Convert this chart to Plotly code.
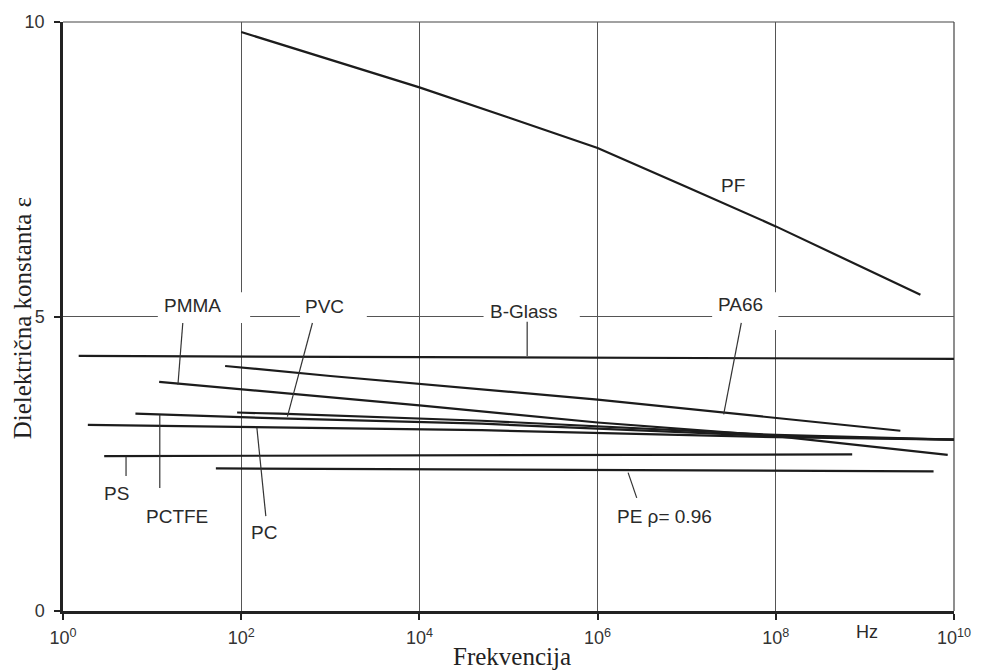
import plotly.graph_objects as go

# ---- data (frequency in Hz, dielectric constant) ----
pf_f = [1e2, 1e3, 1e4, 1e5, 1e6, 1e7, 1e8, 4.2e9]
pf_eps = [9.83, 9.36, 8.89, 8.38, 7.86, 7.20, 6.53, 5.37]

bglass_f = [1.5, 1e10]
bglass_eps = [4.33, 4.28]

pa66_f = [66, 1e3, 1e6, 2.5e9]
pa66_eps = [4.16, 3.99, 3.59, 3.06]

pmma_f = [12, 1e4, 1e6, 1e8, 8.5e9]
pmma_eps = [3.89, 3.49, 3.20, 2.97, 2.65]

pvc_f = [90, 270, 5e4, 1e8, 1e10]
pvc_eps = [3.37, 3.35, 3.23, 2.99, 2.91]

pctfe_f = [6.5, 270, 5e4, 1e8, 1e10]
pctfe_eps = [3.35, 3.27, 3.18, 2.97, 2.91]

pc_f = [1.9, 270, 5e4, 1e8, 1e10]
pc_eps = [3.16, 3.12, 3.07, 2.95, 2.91]

ps_f = [2.9, 7.2e8]
ps_eps = [2.63, 2.66]

pe_f = [52, 5.9e9]
pe_eps = [2.42, 2.37]

x_tickvals = [1, 1e2, 1e4, 1e6, 1e8, 1e10]
x_ticktext = ["10<sup>0</sup>", "10<sup>2</sup>", "10<sup>4</sup>",
              "10<sup>6</sup>", "10<sup>8</sup>", "10<sup>10</sup>"]
y_tickvals = [0, 5, 10]
y_ticktext = ["0", "5", "10"]

series = [
    (pf_f, pf_eps), (bglass_f, bglass_eps), (pa66_f, pa66_eps),
    (pmma_f, pmma_eps), (pvc_f, pvc_eps), (pctfe_f, pctfe_eps),
    (pc_f, pc_eps), (ps_f, ps_eps), (pe_f, pe_eps),
]

# ---- label placement (log10 of frequency, epsilon) ----
labels = [
    ("PF", 7.52, 7.22), ("PMMA", 1.456, 5.19), ("PVC", 2.93, 5.17),
    ("B-Glass", 5.17, 5.08), ("PA66", 7.60, 5.21), ("PS", 0.60, 2.00),
    ("PCTFE", 1.28, 1.60), ("PC", 2.26, 1.33), ("PE ρ= 0.96", 6.75, 1.61),
]
# leader lines: (f0, eps0, f1, eps1) in Hz
leaders = [
    (19.5, 3.84, 22.1, 4.89),      # PMMA
    (330, 3.30, 630, 4.89),        # PVC
    (1.62e5, 4.33, 1.62e5, 4.91),  # B-Glass
    (2.6e7, 3.34, 4.1e7, 4.89),    # PA66
    (5.1, 2.62, 5.1, 2.29),        # PS
    (12.2, 3.33, 12.2, 2.09),      # PCTFE
    (150, 3.11, 189, 1.61),        # PC
    (2.2e6, 2.35, 2.75e6, 1.92),   # PE
]
# white gaps in the grid behind the labels (Hz x0, x1, eps y0, y1)
gaps = [
    (11.6, 126, 4.89, 5.41),
    (457, 2570, 4.89, 5.41),
    (5.25e4, 6.31e5, 4.89, 5.41),
    (1.93e7, 1.07e8, 4.77, 5.41),
]

fig = go.Figure()
for f, e in series:
    fig.add_trace(go.Scatter(x=f, y=e, mode="lines",
                             line=dict(color="#1c1c1c", width=2.2),
                             hoverinfo="skip", showlegend=False))
for f0, e0, f1, e1 in leaders:
    fig.add_trace(go.Scatter(x=[f0, f1], y=[e0, e1], mode="lines",
                             line=dict(color="#333333", width=1.2),
                             hoverinfo="skip", showlegend=False))

shapes = [
    dict(type="line", xref="paper", yref="paper", x0=0, x1=1, y0=1, y1=1,
         line=dict(color="#444444", width=1.2), layer="between"),
    dict(type="line", xref="paper", yref="paper", x0=1, x1=1, y0=0, y1=1,
         line=dict(color="#444444", width=1.2), layer="between"),
]
for x0, x1, y0, y1 in gaps:
    shapes.append(dict(type="rect", xref="x", yref="y", x0=x0, x1=x1,
                       y0=y0, y1=y1, fillcolor="white",
                       line=dict(width=0), layer="between"))

sans = "Liberation Sans, Arial, sans-serif"
serif = "Liberation Serif, Times New Roman, serif"

annotations = []
for text, lx, ly in labels:
    annotations.append(dict(text=text, x=lx, y=ly, xref="x", yref="y",
                            showarrow=False, font=dict(family=sans, size=19,
                                                       color="#2a2a2a")))
annotations += [
    dict(text="Frekvencija", xref="paper", yref="paper", x=0.504, y=-0.078,
         showarrow=False, font=dict(family=serif, size=25, color="#222"),
         xanchor="center", yanchor="middle"),
    dict(text="Dielektrična konstanta ε", xref="paper", yref="paper",
         x=-0.046, y=0.497, textangle=-90, showarrow=False,
         font=dict(family=serif, size=25, color="#222"),
         xanchor="center", yanchor="middle"),
    dict(text="Hz", xref="paper", yref="paper", x=0.902, y=-0.035,
         showarrow=False, font=dict(family=sans, size=18, color="#2a2a2a"),
         xanchor="center", yanchor="middle"),
]

axis_common = dict(
    showgrid=True, gridcolor="#555555", gridwidth=1,
    showline=True, linecolor="#222222", linewidth=2.5,
    ticks="outside", ticklen=6, tickwidth=1.5, tickcolor="#222222",
    zeroline=False, tickfont=dict(family=sans, size=18, color="#333333"),
)

fig.update_layout(
    width=988, height=671,
    margin=dict(l=63, r=34, t=19, b=60),
    paper_bgcolor="white", plot_bgcolor="white",
    showlegend=False,
    xaxis=dict(type="log", range=[0, 10], tickvals=x_tickvals,
               ticktext=x_ticktext, ticklabelstandoff=3, **axis_common),
    yaxis=dict(range=[0, 10], tickvals=y_tickvals, ticktext=y_ticktext,
               ticklabelstandoff=6, **axis_common),
    shapes=shapes,
    annotations=annotations,
)

fig.write_html(
    "out.html",
    config={"displayModeBar": False},
    post_script="document.documentElement.style.margin='0';"
                "document.body.style.margin='0';"
                "document.body.style.overflow='hidden';",
)
